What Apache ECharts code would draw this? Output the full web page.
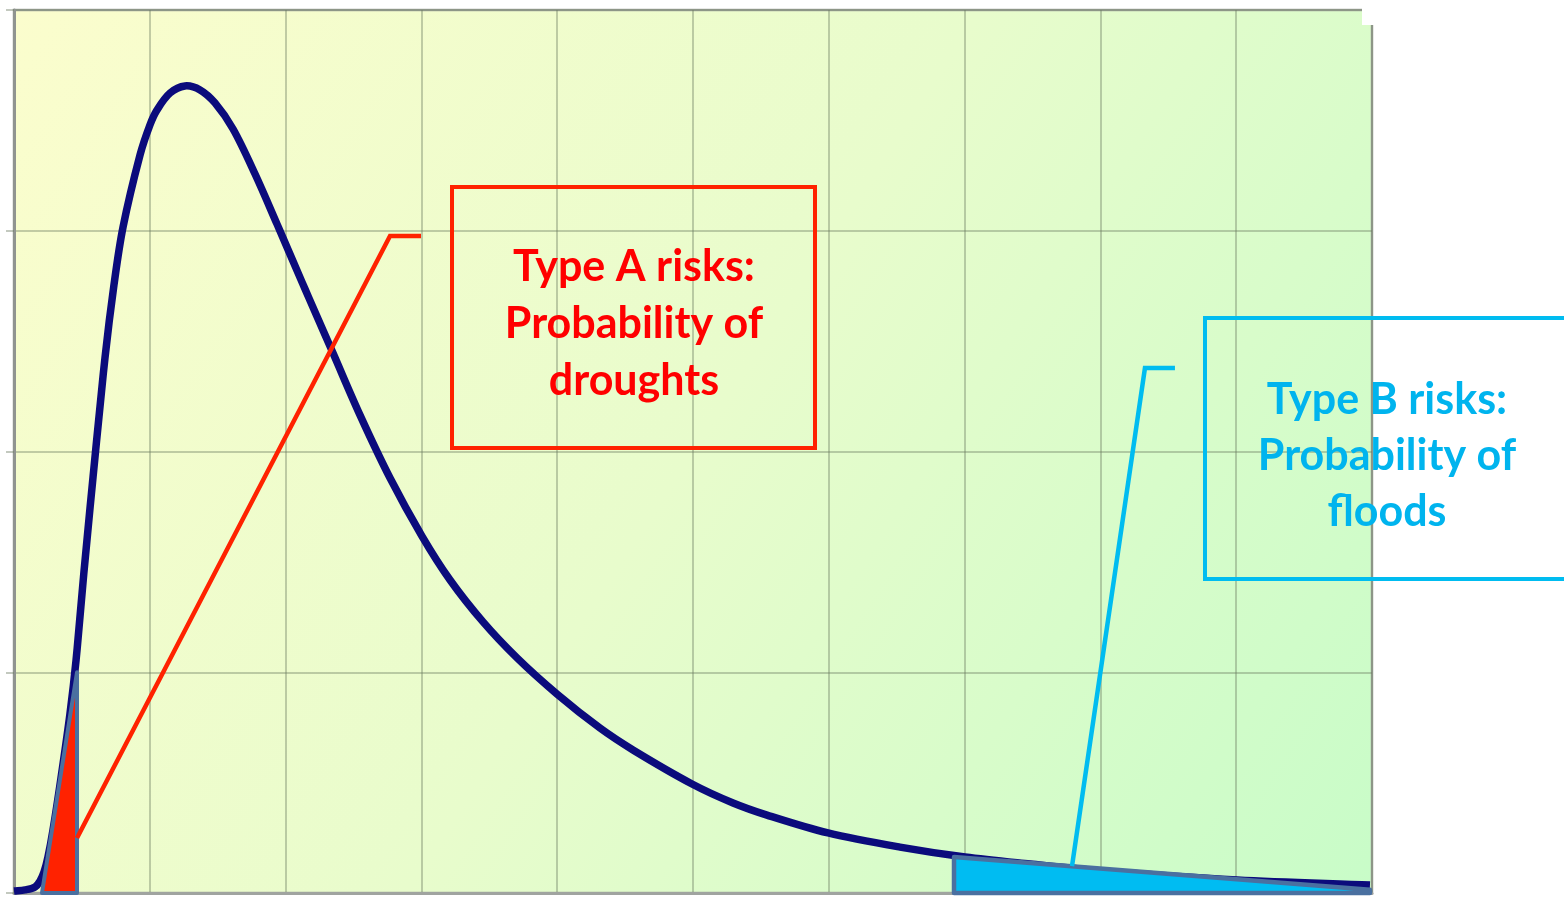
<!DOCTYPE html>
<html>
<head>
<meta charset="utf-8">
<script src="https://cdn.jsdelivr.net/npm/echarts@6/dist/echarts.min.js"></script>
<style>
html,body{margin:0;padding:0;background:#ffffff;}
#chart{width:1564px;height:897px;}
</style>
</head>
<body>
<div id="chart"></div>
<script>
// x-axis: 10 equal intervals, y-axis: 4 equal intervals (no labels shown)
const xTicks = [0,1,2,3,4,5,6,7,8,9,10];
const yTicks = [0,1,2,3,4];

// Skewed probability density curve
const curveX = [0,0.081,0.155,0.191,0.221,0.250,0.287,0.346,0.412,0.457,0.515,0.582,0.670,0.736,0.803,0.928,1.001,1.053,1.149,1.259,1.370,1.480,1.613,1.775,1.937,2.143,2.349,2.548,2.769,3.004,3.211,3.454,3.704,3.999,4.315,4.558,4.993,5.295,5.545,5.994,6.524,7.003,7.482,8.004,9.006,9.985];
const curveY = [0.009,0.014,0.027,0.054,0.095,0.163,0.285,0.521,0.811,1.055,1.454,1.884,2.424,2.754,3.017,3.343,3.479,3.547,3.624,3.656,3.638,3.579,3.461,3.257,3.030,2.736,2.446,2.165,1.880,1.617,1.418,1.228,1.065,0.901,0.747,0.648,0.494,0.408,0.353,0.272,0.208,0.163,0.131,0.100,0.059,0.036];

// Shaded tails
const droughtArea = [[0.206,0],[0.464,1.0],[0.464,0]];
const floodArea = [[6.922,0.163],[9.985,0.015],[9.985,0],[6.922,0]];

// Leader lines (data units)
const droughtLeader = [[0.464,0.249],[2.769,2.976],[2.997,2.976]];
const floodLeader = [[7.791,0.122],[8.328,2.378],[8.549,2.378]];

const labelA = ['Type A risks:','Probability of','droughts'];
const labelB = ['Type B risks:','Probability of','floods'];

const curveData = curveX.map((x,i)=>[x,curveY[i]]);

function polyRenderer(points, style, type){
  return function(params, api){
    if(params.dataIndex!==0) return null;
    const pts = points.map(p=>api.coord(p));
    return {type:type, shape:{points:pts}, style:style};
  };
}

// Smooth path through every data point (tangent-scaled cubic spline in pixel space)
function splineRenderer(params, api){
  if(params.dataIndex!==0) return null;
  const P = curveData.map(p=>api.coord(p));
  const n = P.length;
  const dist = (a,b)=>Math.hypot(b[0]-a[0], b[1]-a[1]);
  const tan = [];
  for(let i=0;i<n;i++){
    const a = P[Math.max(0,i-1)], b = P[Math.min(n-1,i+1)];
    const d = dist(a,b) || 1;
    tan.push([(b[0]-a[0])/d, (b[1]-a[1])/d]);
  }
  let d = 'M' + P[0][0] + ' ' + P[0][1];
  for(let i=0;i<n-1;i++){
    const L = dist(P[i],P[i+1])/3;
    const c1 = [P[i][0]+tan[i][0]*L, P[i][1]+tan[i][1]*L];
    const c2 = [P[i+1][0]-tan[i+1][0]*L, P[i+1][1]-tan[i+1][1]*L];
    d += ' C' + c1[0] + ' ' + c1[1] + ' ' + c2[0] + ' ' + c2[1] + ' ' + P[i+1][0] + ' ' + P[i+1][1];
  }
  return {type:'path', shape:{pathData:d}, style:{fill:null, stroke:'#0b0b7c', lineWidth:7.5, lineJoin:'round', lineCap:'butt'}};
}

const chart = echarts.init(document.getElementById('chart'));
chart.setOption({
  animation:false,
  backgroundColor:'#ffffff',
  grid:{
    left:14, right:192, top:10, bottom:4,
    show:true,
    backgroundColor:{type:'linear',x:0,y:0,x2:1,y2:1,colorStops:[
      {offset:0,color:'#fbfdcd'},
      {offset:0.5,color:'#e8fccc'},
      {offset:1,color:'#c8fcc8'}
    ]},
    borderColor:'#a4a8a0',
    borderWidth:2.5
  },
  xAxis:{
    type:'value', min:xTicks[0], max:xTicks[xTicks.length-1], interval:1,
    axisLabel:{show:false},
    axisTick:{show:false},
    axisLine:{show:true,lineStyle:{color:'#a0a4a0',width:3}},
    splitLine:{show:true,lineStyle:{color:'rgba(105,120,95,0.38)',width:2}}
  },
  yAxis:{
    type:'value', min:yTicks[0], max:yTicks[yTicks.length-1], interval:1,
    axisLabel:{show:false},
    axisTick:{show:true,length:8,lineStyle:{color:'rgba(105,120,95,0.4)',width:2}},
    axisLine:{show:true,lineStyle:{color:'#909490',width:3}},
    splitLine:{show:true,lineStyle:{color:'rgba(105,120,95,0.38)',width:2}}
  },
  series:[
    {
      type:'custom', data:curveData, z:2, encode:{x:0,y:1},
      renderItem:splineRenderer
    },
    {
      type:'custom', data:droughtArea, z:3, encode:{x:0,y:1},
      renderItem:polyRenderer(droughtArea,{fill:'#ff2200',stroke:'#4a70a0',lineWidth:4,lineJoin:'round'},'polygon')
    },
    {
      type:'custom', data:floodArea, z:3, encode:{x:0,y:1},
      renderItem:polyRenderer(floodArea,{fill:'#00bcf2',stroke:'#4a70a0',lineWidth:4.5,lineJoin:'round'},'polygon')
    },
    {
      type:'custom', data:droughtLeader, z:4, encode:{x:0,y:1},
      renderItem:polyRenderer(droughtLeader,{fill:null,stroke:'#ff2200',lineWidth:4.5},'polyline')
    },
    {
      type:'custom', data:floodLeader, z:4, encode:{x:0,y:1},
      renderItem:polyRenderer(floodLeader,{fill:null,stroke:'#00bcf0',lineWidth:4.5},'polyline')
    }
  ],
  graphic:[
    {type:'rect', z:100, shape:{x:1362,y:0,width:14,height:25}, style:{fill:'#ffffff'}},
    {type:'rect', z:100, shape:{x:452,y:187,width:363,height:261}, style:{fill:null,stroke:'#ff2200',lineWidth:4}},
    {type:'text', z:101, x:634, y:324, style:{
      text:labelA.join('\n'), font:'bold 43px Lato', fill:'#ff0000',
      align:'center', verticalAlign:'middle', lineHeight:57}},
    {type:'rect', z:100, shape:{x:1205,y:318,width:400,height:261}, style:{fill:null,stroke:'#00bcf0',lineWidth:4}},
    {type:'text', z:101, x:1387, y:456, style:{
      text:labelB.join('\n'), font:'bold 43px Lato', fill:'#00b4ee',
      align:'center', verticalAlign:'middle', lineHeight:56}}
  ]
});
</script>
</body>
</html>
